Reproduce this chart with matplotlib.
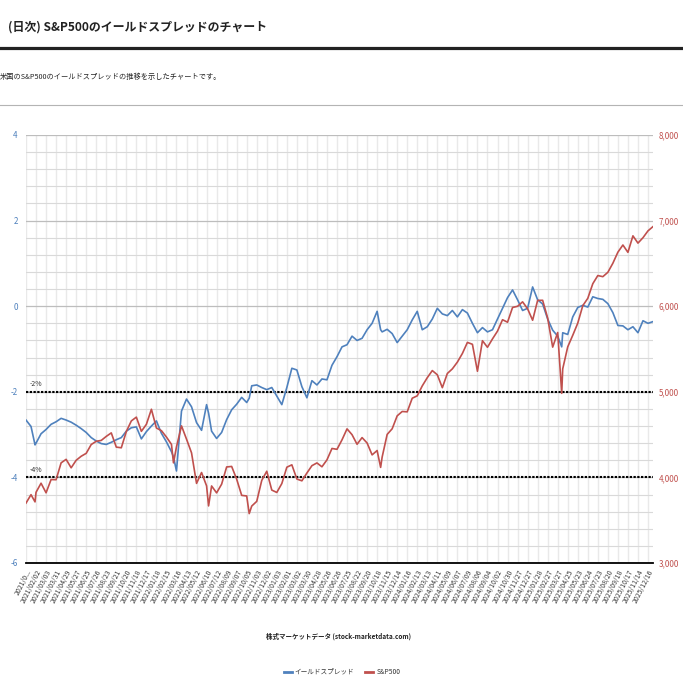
import matplotlib
matplotlib.use('Agg')
import matplotlib.pyplot as plt
from matplotlib.ticker import MultipleLocator, FuncFormatter
from matplotlib.lines import Line2D
import matplotlib.transforms as mtransforms

plt.rcParams['font.family'] = ['Noto Sans CJK JP', 'DejaVu Sans']

# trading-day number of each sample (day 0 = 2021/01/04)
sample_day = [0, 10, 18, 20, 30, 40, 50, 60, 70, 80, 90, 100, 110, 120, 130, 140, 150, 160, 170, 180,
              190, 200, 210, 220, 230, 240, 250, 260, 270, 280, 290, 294, 300, 310, 320, 330, 340, 350,
              360, 364, 370, 380, 390, 400, 410, 420, 430, 440, 445, 450, 460, 470, 480, 490, 500, 510,
              520, 530, 540, 550, 560, 570, 580, 590, 600, 610, 620, 630, 640, 650, 660, 670, 680, 690,
              700, 707, 710, 720, 730, 740, 750, 760, 770, 780, 790, 800, 810, 820, 830, 840, 850, 860,
              870, 880, 890, 900, 910, 920, 930, 940, 950, 960, 970, 980, 990, 1000, 1010, 1020, 1030,
              1040, 1050, 1060, 1068, 1070, 1080, 1090, 1100, 1110, 1120, 1130, 1140, 1150, 1160, 1170,
              1180, 1190, 1200, 1210, 1220, 1230, 1240, 1250]

# yield spread (%)
spread = [-2.66, -2.81, -3.24, -3.20, -2.98, -2.88, -2.76, -2.70, -2.62, -2.66, -2.71, -2.78, -2.86,
          -2.95, -3.07, -3.15, -3.21, -3.23, -3.18, -3.12, -3.07, -2.92, -2.84, -2.82, -3.10, -2.93,
          -2.80, -2.68, -2.97, -3.17, -3.40, -3.52, -3.85, -2.45, -2.17, -2.35, -2.72, -2.90, -2.30,
          -2.50, -2.92, -3.09, -2.95, -2.65, -2.42, -2.29, -2.13, -2.25, -2.15, -1.86, -1.84, -1.90,
          -1.95, -1.90, -2.10, -2.30, -1.90, -1.45, -1.49, -1.88, -2.14, -1.74, -1.84, -1.70, -1.72,
          -1.38, -1.18, -0.95, -0.90, -0.70, -0.80, -0.75, -0.55, -0.40, -0.12, -0.55, -0.60, -0.54,
          -0.64, -0.85, -0.70, -0.55, -0.32, -0.12, -0.55, -0.48, -0.30, -0.05, -0.18, -0.22, -0.10,
          -0.25, -0.08, -0.16, -0.40, -0.62, -0.50, -0.60, -0.55, -0.30, -0.05, 0.20, 0.38, 0.15,
          -0.10, -0.05, 0.45, 0.15, 0.05, -0.30, -0.56, -0.70, -0.95, -0.62, -0.66, -0.25, -0.03,
          0.02, -0.02, 0.22, 0.18, 0.16, 0.06, -0.15, -0.45, -0.46, -0.55, -0.48, -0.62, -0.34,
          -0.40, -0.36]

# S&P500 close
sp500 = [3700, 3798, 3714, 3826, 3932, 3820, 3975, 3973, 4170, 4211, 4112, 4200, 4247, 4281, 4384,
         4422, 4432, 4479, 4520, 4354, 4346, 4536, 4660, 4704, 4538, 4620, 4796, 4577, 4546, 4471,
         4386, 4170, 4357, 4602, 4447, 4287, 3930, 4057, 3901, 3667, 3900, 3819, 3921, 4122, 4128,
         3979, 3790, 3783, 3577, 3665, 3720, 3965, 4072, 3852, 3824, 3928, 4119, 4147, 3981, 3960,
         4051, 4137, 4169, 4124, 4205, 4338, 4328, 4439, 4567, 4499, 4387, 4465, 4402, 4263, 4314,
         4117, 4237, 4502, 4568, 4719, 4770, 4766, 4925, 4953, 5069, 5165, 5248, 5199, 5048, 5214,
         5268, 5347, 5448, 5577, 5555, 5240, 5597, 5520, 5618, 5709, 5842, 5813, 5985, 5999, 6051,
         5970, 5836, 6068, 6069, 5861, 5522, 5693, 4982, 5268, 5525, 5660, 5802, 6006, 6092, 6263,
         6358, 6345, 6396, 6502, 6631, 6715, 6629, 6822, 6737, 6800, 6880, 6930]

tick_labels = ['2021/0...', '2021/02/02', '2021/03/03', '2021/03/31', '2021/04/29', '2021/05/27',
               '2021/06/25', '2021/07/26', '2021/08/23', '2021/09/21', '2021/10/20', '2021/11/18',
               '2021/12/17', '2022/01/18', '2022/02/15', '2022/03/16', '2022/04/13', '2022/05/12',
               '2022/06/10', '2022/07/12', '2022/08/09', '2022/09/07', '2022/10/05', '2022/11/03',
               '2022/12/02', '2023/01/03', '2023/02/01', '2023/03/02', '2023/03/30', '2023/04/28',
               '2023/05/26', '2023/06/26', '2023/07/25', '2023/08/22', '2023/09/20', '2023/10/18',
               '2023/11/15', '2023/12/14', '2024/01/16', '2024/02/13', '2024/03/13', '2024/04/11',
               '2024/05/09', '2024/06/07', '2024/07/09', '2024/08/06', '2024/09/04', '2024/10/02',
               '2024/10/30', '2024/11/27', '2024/12/27', '2025/01/28', '2025/02/27', '2025/03/27',
               '2025/04/25', '2025/05/23', '2025/06/24', '2025/07/23', '2025/08/20', '2025/09/18',
               '2025/10/17', '2025/11/14', '2025/12/16']
label_step = 20  # one label every 20 trading days

ref_levels = [-2, -4]
ref_texts = ['-2%', '-4%']

BLUE = '#4f81bd'
RED = '#c0504d'

fig = plt.figure(figsize=(6.83, 6.83), dpi=100, facecolor='white')

# header
fig.text(8 / 683, 1 - 27 / 683, '(日次) S&P500のイールドスプレッドのチャート',
         fontsize=8.6, fontweight='bold', color='#222222', va='center', ha='left')
fig.add_artist(Line2D([0, 1], [1 - 48 / 683] * 2, color='#222222', lw=2.3,
                      transform=fig.transFigure))
fig.text(0, 1 - 77 / 683, '米国のS&P500のイールドスプレッドの推移を示したチャートです。',
         fontsize=5.2, color='#222222', va='center', ha='left')
fig.add_artist(Line2D([0, 1], [1 - 105 / 683] * 2, color='#b4b4b4', lw=0.8,
                      transform=fig.transFigure))

ax = fig.add_axes([26 / 683, 1 - 563 / 683, 627 / 683, 428 / 683])
ax.set_xlim(0, 1250)
ax.set_ylim(-6, 4)

label_day = [label_step * k for k in range(len(tick_labels))]
ax.set_xticks(label_day)
ax.set_xticklabels(tick_labels, rotation=63, ha='right', va='top', rotation_mode='anchor',
                   fontsize=5, color='#3a3a3a')
ax.yaxis.set_major_locator(MultipleLocator(2))
ax.yaxis.set_minor_locator(MultipleLocator(0.4))
ax.yaxis.set_major_formatter(FuncFormatter(lambda v, p: '%d' % v))
ax.tick_params(axis='y', which='both', length=0, labelsize=5.8, labelcolor=BLUE, pad=6)
ax.tick_params(axis='x', length=0, pad=4)

ax.grid(axis='x', color='#e9e9e9', lw=1.0)
ax.grid(axis='y', which='minor', color='#d9d9d9', lw=0.8)
ax.grid(axis='y', which='major', color='#bdbdbd', lw=0.9)
ax.set_axisbelow(True)
for side in ['top', 'left', 'right']:
    ax.spines[side].set_visible(False)
ax.spines['bottom'].set_color('black')
ax.spines['bottom'].set_linewidth(1.3)

blend = mtransforms.blended_transform_factory(ax.transAxes, ax.transData)
for lvl, txt in zip(ref_levels, ref_texts):
    ax.axhline(lvl, color='black', lw=1.5, ls=(0, (1.1, 0.7)), zorder=3)
    ax.text(0.006, lvl + 0.08, txt, transform=blend, fontsize=5, color='#333333',
            ha='left', va='bottom')

ax.plot(sample_day, spread, color=BLUE, lw=1.2, zorder=4)

ax2 = ax.twinx()
ax2.set_ylim(3000, 8000)
ax2.yaxis.set_major_locator(MultipleLocator(1000))
ax2.yaxis.set_major_formatter(FuncFormatter(lambda v, p: '{:,.0f}'.format(v)))
ax2.tick_params(axis='y', length=0, labelsize=5.8, labelcolor=RED, pad=4)
for side in ['top', 'left', 'right', 'bottom']:
    ax2.spines[side].set_visible(False)
ax2.plot(sample_day, sp500, color=RED, lw=1.2)

fig.text(338 / 683, 1 - 636 / 683, '株式マーケットデータ (stock-marketdata.com)',
         fontsize=4.7, fontweight='bold', color='#222222', ha='center', va='center')

handles = [Line2D([], [], color=BLUE, lw=2), Line2D([], [], color=RED, lw=2)]
fig.legend(handles, ['イールドスプレッド', 'S&P500'], loc='center',
           bbox_to_anchor=(342 / 683, 1 - 672 / 683), ncol=2, frameon=False,
           fontsize=4.8, handlelength=1.2, columnspacing=1.6, handletextpad=0.5,
           labelcolor='#333333')

fig.savefig('out.png', dpi=100, facecolor='white')
